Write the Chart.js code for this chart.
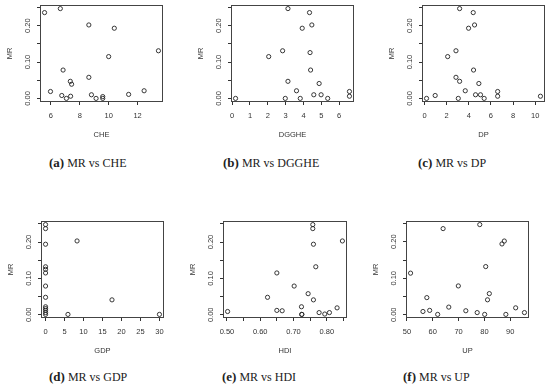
<!DOCTYPE html>
<html>
<head>
<meta charset="utf-8">
<script src="https://cdn.jsdelivr.net/npm/chart.js@4.4.1/dist/chart.umd.min.js"></script>
<style>
body { margin: 0; background: #fff; width: 550px; height: 389px; position: relative; overflow: hidden; }
.panel { position: absolute; }
.cap { position: absolute; font-family: "Liberation Serif", "DejaVu Serif", serif; font-size: 12px; color: #222; white-space: nowrap; }
.cap b { font-size: 13px; }
</style>
</head>
<body>
<canvas id="chA" class="panel" width="168" height="142" style="left:0px;top:0px"></canvas>
<canvas id="chB" class="panel" width="168" height="142" style="left:191px;top:0px"></canvas>
<canvas id="chC" class="panel" width="168" height="142" style="left:382px;top:0px"></canvas>
<canvas id="chD" class="panel" width="168" height="142" style="left:1px;top:216px"></canvas>
<canvas id="chE" class="panel" width="169" height="142" style="left:183px;top:216px"></canvas>
<canvas id="chF" class="panel" width="168" height="142" style="left:366px;top:216px"></canvas>

<div class="cap" style="left:49px;top:155px"><b>(a)</b> MR vs CHE</div>
<div class="cap" style="left:223px;top:155px"><b>(b)</b> MR vs DGGHE</div>
<div class="cap" style="left:418px;top:155px"><b>(c)</b> MR vs DP</div>
<div class="cap" style="left:49px;top:369px"><b>(d)</b> MR vs GDP</div>
<div class="cap" style="left:222px;top:369px"><b>(e)</b> MR vs HDI</div>
<div class="cap" style="left:403px;top:369px"><b>(f)</b> MR vs UP</div>

<script>
// values
var cheX = [6.66, 5.57, 8.63, 10.39, 13.44, 10.0, 6.85, 8.63, 7.35, 7.44, 12.45, 5.98, 11.38, 8.81, 6.76, 7.37, 9.59, 7.08, 9.13, 9.59];
var cheMR = [0.247, 0.236, 0.202, 0.193, 0.131, 0.115, 0.078, 0.058, 0.047, 0.039, 0.021, 0.019, 0.011, 0.010, 0.008, 0.006, 0.005, 0.000, 0.000, 0.000];

var dggheX = [3.13, 4.34, 4.47, 3.93, 2.83, 4.37, 2.05, 4.40, 3.13, 4.88, 3.61, 6.58, 4.58, 4.99, 6.58, 0.19, 2.98, 3.82, 5.36];
var dggheMR = [0.247, 0.236, 0.202, 0.193, 0.131, 0.126, 0.115, 0.078, 0.047, 0.041, 0.021, 0.019, 0.010, 0.010, 0.006, 0.000, 0.000, 0.000, 0.000];

var dpX = [3.17, 4.40, 4.52, 3.98, 2.84, 2.09, 4.43, 2.84, 3.17, 4.91, 3.68, 6.61, 4.61, 5.06, 0.96, 6.61, 10.48, 0.18, 3.05, 5.39];
var dpMR = [0.247, 0.236, 0.202, 0.193, 0.131, 0.115, 0.078, 0.058, 0.047, 0.041, 0.021, 0.019, 0.010, 0.010, 0.008, 0.006, 0.006, 0.000, 0.000, 0.000];

var gdpX = [0, 0, 8.3, 0, 0, 0, 0, 0, 0, 17.5, 0, 0, 0, 0, 0, 5.9, 30.0];
var gdpMR = [0.248, 0.237, 0.203, 0.194, 0.132, 0.125, 0.115, 0.079, 0.048, 0.041, 0.022, 0.017, 0.012, 0.006, 0.001, 0.001, 0.001];

var hdiX = [0.758, 0.758, 0.847, 0.760, 0.767, 0.650, 0.702, 0.744, 0.622, 0.760, 0.724, 0.831, 0.650, 0.666, 0.502, 0.777, 0.808, 0.794, 0.725, 0.725];
var hdiMR = [0.248, 0.237, 0.203, 0.194, 0.132, 0.115, 0.079, 0.058, 0.048, 0.041, 0.022, 0.019, 0.012, 0.011, 0.009, 0.006, 0.006, 0.002, 0.001, 0.001];

var upX = [78.2, 64.0, 87.7, 86.8, 80.5, 51.4, 69.9, 81.9, 57.7, 81.2, 66.2, 92.1, 58.8, 72.8, 56.2, 77.2, 95.5, 61.9, 80.1, 88.3];
var upMR = [0.247, 0.236, 0.202, 0.194, 0.132, 0.114, 0.079, 0.058, 0.047, 0.041, 0.021, 0.019, 0.012, 0.011, 0.009, 0.006, 0.006, 0.001, 0.001, 0.001];

// tick positions and their labels ('' = tick mark only)
var mrTicks = [0, 0.05, 0.10, 0.15, 0.20, 0.25];
var mrLabels = ['0.00', '', '0.10', '', '0.20', ''];
var cheTicks = [6, 8, 10, 12];
var cheLabels = ['6', '8', '10', '12'];
var dggheTicks = [0, 1, 2, 3, 4, 5, 6];
var dggheLabels = ['0', '1', '2', '3', '4', '5', '6'];
var dpTicks = [0, 2, 4, 6, 8, 10];
var dpLabels = ['0', '2', '4', '6', '8', '10'];
var gdpTicks = [0, 5, 10, 15, 20, 25, 30];
var gdpLabels = ['0', '5', '10', '15', '20', '25', '30'];
var hdiTicks = [0.50, 0.55, 0.60, 0.65, 0.70, 0.75, 0.80, 0.85];
var hdiLabels = ['0.50', '', '0.60', '', '0.70', '', '0.80', ''];
var upTicks = [50, 60, 70, 80, 90];
var upLabels = ['50', '60', '70', '80', '90'];

Chart.defaults.font.family = '"Liberation Sans", Arial, sans-serif';
Chart.defaults.font.size = 7.5;
Chart.defaults.color = '#333';

// R style axis limits: data range stretched by 4% each side
function rRange(vals) {
    var lo = Math.min.apply(null, vals);
    var hi = Math.max.apply(null, vals);
    var d = (hi - lo) * 0.04;
    return [lo - d, hi + d];
}

var boxPlugin = {
    id: 'plotBox',
    afterDraw: function (chart) {
        var a = chart.chartArea;
        var ctx = chart.ctx;
        ctx.save();
        ctx.strokeStyle = '#444';
        ctx.lineWidth = 1;
        ctx.strokeRect(a.left + 0.5, a.top + 0.5, a.right - a.left - 1, a.bottom - a.top - 1);
        ctx.restore();
    }
};

function makePanel(id, xs, ys, xTicks, xLabels, xTitle) {
    var pts = [];
    for (var i = 0; i < xs.length; i++) {
        pts.push({ x: xs[i], y: ys[i] });
    }
    var xr = rRange(xs);
    var yr = rRange(ys);

    new Chart(document.getElementById(id), {
        type: 'scatter',
        data: {
            datasets: [{
                data: pts,
                pointStyle: 'circle',
                pointRadius: 2.1,
                pointBorderWidth: 0.9,
                borderColor: '#222',
                backgroundColor: 'rgba(0,0,0,0)'
            }]
        },
        plugins: [boxPlugin],
        options: {
            responsive: false,
            animation: false,
            layout: { padding: { top: 5, right: 5, left: 0, bottom: 0 } },
            plugins: { legend: { display: false }, tooltip: { enabled: false } },
            scales: {
                x: {
                    type: 'linear',
                    min: xr[0],
                    max: xr[1],
                    afterBuildTicks: function (s) {
                        s.ticks = xTicks.map(function (v) { return { value: v }; });
                    },
                    afterFit: function (s) {
                        s.height = 40;
                        s.paddingLeft = 0;
                        s.paddingRight = 0;
                    },
                    ticks: {
                        autoSkip: false,
                        maxRotation: 0,
                        padding: 6,
                        callback: function (v, i) { return xLabels[i]; }
                    },
                    grid: { drawOnChartArea: false, drawTicks: true, tickLength: 3, color: '#333' },
                    border: { display: false },
                    title: { display: true, text: xTitle, padding: { bottom: 3, top: 0 } }
                },
                y: {
                    type: 'linear',
                    min: yr[0],
                    max: yr[1],
                    afterBuildTicks: function (s) {
                        s.ticks = mrTicks.map(function (v) { return { value: v }; });
                    },
                    afterFit: function (s) {
                        s.width = 40;
                        s.paddingTop = 0;
                        s.paddingBottom = 0;
                    },
                    ticks: {
                        autoSkip: false,
                        minRotation: 90,
                        maxRotation: 90,
                        crossAlign: 'center',
                        padding: 2,
                        callback: function (v, i) { return mrLabels[i]; }
                    },
                    grid: { drawOnChartArea: false, drawTicks: true, tickLength: 3, color: '#333' },
                    border: { display: false },
                    title: { display: true, text: 'MR', padding: { top: 5.5, bottom: 0 } }
                }
            }
        }
    });
}

makePanel('chA', cheX, cheMR, cheTicks, cheLabels, 'CHE');
makePanel('chB', dggheX, dggheMR, dggheTicks, dggheLabels, 'DGGHE');
makePanel('chC', dpX, dpMR, dpTicks, dpLabels, 'DP');
makePanel('chD', gdpX, gdpMR, gdpTicks, gdpLabels, 'GDP');
makePanel('chE', hdiX, hdiMR, hdiTicks, hdiLabels, 'HDI');
makePanel('chF', upX, upMR, upTicks, upLabels, 'UP');
</script>
</body>
</html>
